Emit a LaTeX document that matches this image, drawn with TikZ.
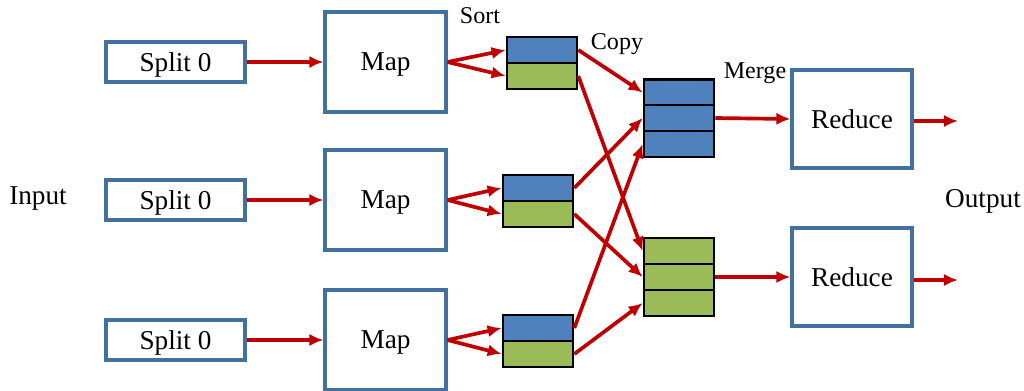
\documentclass[tikz,border=0pt]{standalone}
\usepackage{fontspec}
\setmainfont{Liberation Serif}
\usetikzlibrary{arrows.meta}
\definecolor{boxblue}{HTML}{41719C}
\definecolor{cellblue}{HTML}{4F81BD}
\definecolor{cellgreen}{HTML}{9BBB59}
\definecolor{flowred}{HTML}{C00000}
\begin{document}
\begin{tikzpicture}[x=0.02cm, y=-0.02cm, >={Latex[length=8pt, width=7pt]},
    box/.style={draw=boxblue, line width=1.8pt, fill=white, inner sep=0pt, text depth=0pt, font=\fontsize{15.5}{18}\selectfont},
    splitbox/.style={box, minimum width=2.78cm, minimum height=0.8cm},
    mapbox/.style={box, minimum width=2.42cm, minimum height=2cm},
    cell/.style={draw=black, line width=1.5pt, inner sep=0pt, minimum width=1.4cm, minimum height=0.52cm},
    flow/.style={->, draw=flowred, line width=2.1pt},
    lbl/.style={font=\fontsize{13.7}{16}\selectfont},
    biglbl/.style={font=\fontsize{15.5}{18}\selectfont}]
    \useasboundingbox (0,0) rectangle (1024,390);

    % Splits, maps and sorted outputs
    \foreach \i/\y/\sx in {1/62/542, 2/200/538, 3/340/538} {
        \node[splitbox] (split\i) at (175.5,\y) {Split 0};
        \node[mapbox] (map\i) at (385.5,\y) {Map};
        \node[cell, fill=cellblue] (sort\i b) at (\sx,\y-12) {};
        \node[cell, fill=cellgreen] (sort\i g) at (\sx,\y+14) {};
        \draw[flow] (split\i.east) -- (map\i.west);
        \draw[flow] (map\i.east) -- (sort\i b.west);
        \draw[flow] (map\i.east) -- (sort\i g.west);
    }

    % Merge stacks
    \node[cell, fill=cellblue] (mb1) at (679,92.5) {};
    \node[cell, fill=cellblue] (mb2) at (679,118) {};
    \node[cell, fill=cellblue] (mb3) at (679,144) {};
    \node[cell, fill=cellgreen] (mg1) at (679,251) {};
    \node[cell, fill=cellgreen] (mg2) at (679,277) {};
    \node[cell, fill=cellgreen] (mg3) at (679,303) {};

    % Copy
    \draw[flow] (sort1b.east) -- (mb1.west);
    \draw[flow] (sort2b.east) -- (mb2.west);
    \draw[flow] (sort3b.east) -- (mb3.west);
    \draw[flow] (sort1g.east) -- (mg1.west);
    \draw[flow] (sort2g.east) -- (mg2.west);
    \draw[flow] (sort3g.east) -- (mg3.west);

    % Reduce
    \node[mapbox, minimum width=2.4cm, minimum height=1.96cm] (red1) at (852,119) {Reduce};
    \node[mapbox, minimum width=2.4cm, minimum height=1.96cm] (red2) at (852,277) {Reduce};
    \draw[flow] (mb2.east) -- (red1.west);
    \draw[flow] (mg2.east) -- (red2.west);
    \coordinate (out1) at (958,121);
    \coordinate (out2) at (958,280);
    \draw[flow] (red1.east |- out1) -- (out1);
    \draw[flow] (red2.east |- out2) -- (out2);

    % Labels
    \node[lbl] (sortlbl) at (480,16) {Sort};
    \node[lbl] (copylbl) at (617,44) {Copy};
    \node[lbl] (mergelbl) at (755,73) {Merge};
    \node[biglbl] (inlbl) at (38,198) {Input};
    \node[biglbl] (outlbl) at (983,201) {Output};
\end{tikzpicture}
\end{document}
